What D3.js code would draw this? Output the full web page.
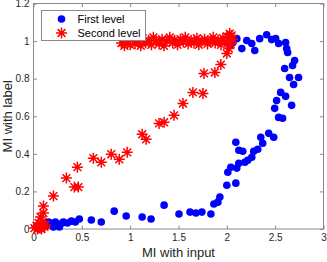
<!DOCTYPE html>
<html>
<head>
<meta charset="utf-8">
<script src="https://cdn.jsdelivr.net/npm/d3@7"></script>
<style>
  body { margin: 0; background: #fff; }
  svg { font-family: "Liberation Sans", Arial, sans-serif; }
</style>
</head>
<body>
<svg id="vis" width="327" height="262"></svg>
<script>
const xTicks = [0, 0.5, 1, 1.5, 2, 2.5, 3]
const yTicks = [0, 0.2, 0.4, 0.6, 0.8, 1, 1.2]
const seriesNames = ['First level', 'Second level']

// [MI with input, MI with label]
const firstLevel = [
  [0.031, 0.011], [0.062, 0.021], [0.093, 0.027], [0.124, 0.016], [0.155, 0.037],
  [0.175, 0.032], [0.206, 0.011], [0.227, 0.037], [0.268, 0.011], [0.299, 0.032],
  [0.309, 0.037], [0.351, 0.032], [0.392, 0.042], [0.433, 0.037], [0.474, 0.053],
  [0.598, 0.048], [0.701, 0.037], [0.835, 0.095], [0.959, 0.069], [1.124, 0.064],
  [1.216, 0.053], [1.351, 0.127], [1.505, 0.080], [1.619, 0.090], [1.680, 0.085],
  [1.742, 0.090], [1.835, 0.080], [1.866, 0.133], [1.907, 0.143], [1.928, 0.170],
  [2.000, 0.233], [2.093, 0.244], [2.010, 0.302], [2.041, 0.329], [2.103, 0.324],
  [2.124, 0.350], [2.186, 0.355], [2.216, 0.366], [2.258, 0.382], [2.278, 0.414],
  [2.320, 0.424], [2.093, 0.462], [2.124, 0.419], [2.165, 0.414], [2.351, 0.488],
  [2.371, 0.456], [2.433, 0.509], [2.485, 0.488], [2.495, 0.642], [2.515, 0.684],
  [2.536, 0.594], [2.577, 0.589], [2.557, 0.727], [2.608, 0.706], [2.670, 0.658],
  [2.649, 0.806], [2.742, 0.806], [2.691, 0.769], [2.598, 0.854], [2.680, 0.870],
  [2.701, 0.897], [2.629, 0.939], [2.619, 0.960], [2.608, 0.992], [2.536, 0.987],
  [2.505, 1.013], [2.464, 1.008], [2.412, 1.034], [2.340, 1.013], [2.289, 0.950],
  [2.258, 0.987], [2.206, 1.003], [2.155, 0.960], [2.103, 1.013], [2.062, 0.992],
  [2.031, 0.976]
]

const secondLevel = [
  [0.010, 0.005], [0.031, 0.016], [0.041, 0.000], [0.052, 0.032], [0.062, 0.005],
  [0.072, 0.021], [0.082, 0.000], [0.093, 0.037], [0.113, 0.011], [0.124, 0.021],
  [0.072, 0.064], [0.103, 0.085], [0.103, 0.122], [0.206, 0.175], [0.340, 0.271],
  [0.423, 0.223], [0.464, 0.223], [0.454, 0.329], [0.619, 0.377], [0.701, 0.355],
  [0.804, 0.398], [0.887, 0.371], [0.969, 0.408], [1.124, 0.504], [1.165, 0.477],
  [1.299, 0.562], [1.351, 0.568], [1.454, 0.605], [1.546, 0.668], [1.649, 0.727],
  [1.753, 0.721], [1.763, 0.828], [1.876, 0.833], [1.938, 0.875], [2.000, 0.934],
  [2.021, 0.960],
  [0.91, 0.99], [0.94, 0.975], [0.97, 1.0], [1.0, 0.98], [1.03, 1.01], [1.05, 0.985],
  [1.08, 1.0], [1.11, 0.975], [1.13, 1.015], [1.16, 0.99], [1.19, 1.005], [1.22, 0.98],
  [1.24, 1.02], [1.27, 1.0], [1.3, 0.985], [1.33, 1.01], [1.35, 0.975], [1.38, 1.0],
  [1.41, 1.02], [1.44, 0.99], [1.46, 1.005], [1.49, 0.98], [1.52, 1.01], [1.55, 0.995],
  [1.57, 1.02], [1.6, 0.985], [1.63, 1.005], [1.66, 0.99], [1.69, 1.015], [1.71, 0.98],
  [1.74, 1.0], [1.77, 1.01], [1.8, 0.985], [1.83, 1.0], [1.86, 1.02], [1.88, 0.99],
  [1.91, 1.005], [1.94, 0.98], [1.96, 1.015], [1.98, 0.995], [2.0, 1.025], [2.02, 1.0],
  [2.04, 0.985], [2.05, 1.03], [2.03, 1.04], [2.06, 1.01]
]

const svg = d3.select('#vis')
const x = d3.scaleLinear().domain([0, 3]).range([33.5, 323.5])
const y = d3.scaleLinear().domain([0, 1.2]).range([229, 3.5])
const axisColor = '#8a8a8a'
const textColor = '#262626'

// ticks, inward, on all four sides
svg.append('g')
  .attr('transform', `translate(0,${y(0)})`)
  .call(d3.axisBottom(x).tickValues(xTicks).tickFormat(d3.format('')).tickSizeInner(-3.5).tickSizeOuter(0).tickPadding(5))
svg.append('g')
  .attr('transform', `translate(0,${y(1.2)})`)
  .call(d3.axisTop(x).tickValues(xTicks).tickFormat('').tickSizeInner(-3.5).tickSizeOuter(0))
svg.append('g')
  .attr('transform', `translate(${x(0)},0)`)
  .call(d3.axisLeft(y).tickValues(yTicks).tickFormat(d3.format('')).tickSizeInner(-3.5).tickSizeOuter(0).tickPadding(4))
svg.append('g')
  .attr('transform', `translate(${x(3)},0)`)
  .call(d3.axisRight(y).tickValues(yTicks).tickFormat('').tickSizeInner(-3.5).tickSizeOuter(0))

svg.selectAll('.domain').remove()
svg.selectAll('.tick line').attr('stroke', axisColor)
svg.selectAll('.tick text').attr('fill', textColor).attr('font-size', 10)
  .attr('font-family', '"Liberation Sans", Arial, sans-serif')

svg.append('rect')
  .attr('x', x(0)).attr('y', y(1.2))
  .attr('width', x(3) - x(0)).attr('height', y(0) - y(1.2))
  .attr('fill', 'none').attr('stroke', axisColor)

const star = 'M-5.5,0H5.5M0,-5.5V5.5M-3.9,-3.9L3.9,3.9M-3.9,3.9L3.9,-3.9'

svg.append('g').selectAll('circle')
  .data(firstLevel)
  .enter()
  .append('circle')
  .attr('cx', d => x(d[0]))
  .attr('cy', d => y(d[1]))
  .attr('r', 3.8)
  .attr('fill', '#0000ff')

svg.append('g').selectAll('path')
  .data(secondLevel)
  .enter()
  .append('path')
  .attr('transform', d => `translate(${x(d[0])},${y(d[1])})`)
  .attr('d', star)
  .attr('stroke', '#ff0000')
  .attr('stroke-width', 1.5)
  .attr('fill', 'none')

// axis labels
svg.append('text')
  .attr('x', (x(0) + x(3)) / 2).attr('y', 257)
  .attr('text-anchor', 'middle').attr('font-size', 13).attr('fill', textColor)
  .text('MI with input')
svg.append('text')
  .attr('transform', `translate(11.5,${(y(0) + y(1.2)) / 2}) rotate(-90)`)
  .attr('text-anchor', 'middle').attr('font-size', 13).attr('fill', textColor)
  .text('MI with label')

// legend
const legend = svg.append('g')
legend.append('rect')
  .attr('x', 41.5).attr('y', 10.5).attr('width', 104).attr('height', 30)
  .attr('fill', '#fff').attr('stroke', axisColor)
legend.append('circle').attr('cx', 61.5).attr('cy', 19).attr('r', 3.8).attr('fill', '#0000ff')
legend.append('path').attr('transform', 'translate(61.5,33)').attr('d', star)
  .attr('stroke', '#ff0000').attr('stroke-width', 1.5).attr('fill', 'none')
legend.selectAll('text.lbl')
  .data(seriesNames)
  .enter()
  .append('text')
  .attr('x', 77.5)
  .attr('y', (d, i) => 23 + i * 13.5)
  .attr('font-size', 11)
  .attr('fill', '#000')
  .text(d => d)
</script>
</body>
</html>
